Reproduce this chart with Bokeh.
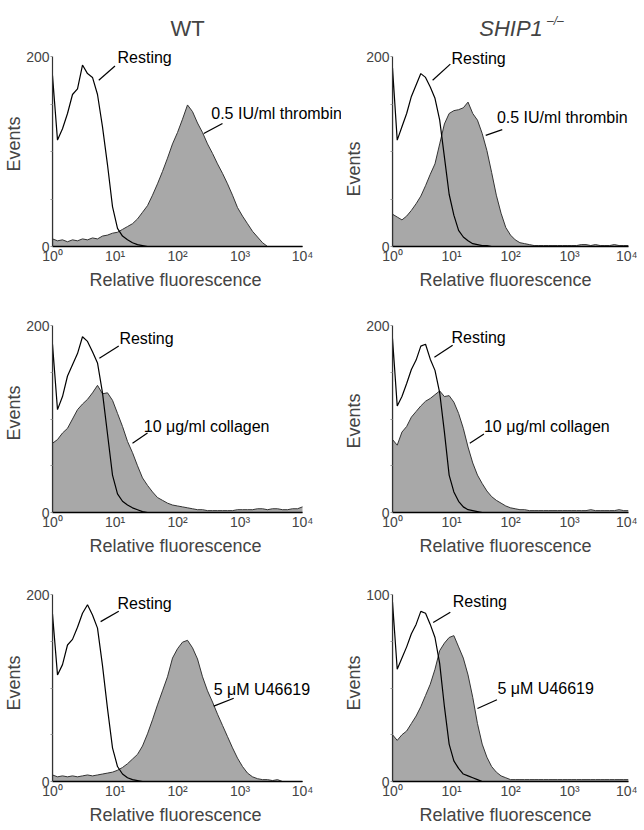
from bokeh.plotting import figure
from bokeh.layouts import column, row
from bokeh.models import FixedTicker, Label, Range1d, Title
from bokeh.embed import file_html
from bokeh.resources import INLINE

FONT = "Liberation Sans"

# ---------------- data ----------------
LOG_CHANNEL = [0.00, 0.08, 0.16, 0.24, 0.32, 0.40, 0.48, 0.56, 0.64, 0.72,
               0.80, 0.88, 0.96, 1.04, 1.12, 1.20, 1.28, 1.36, 1.44, 1.52,
               1.60, 1.68, 1.76, 1.84, 1.92, 2.00, 2.08, 2.16, 2.24, 2.32,
               2.40, 2.48, 2.56, 2.64, 2.72, 2.80, 2.88, 2.96, 3.04, 3.12,
               3.20, 3.28, 3.36, 3.44, 3.52, 3.60, 3.68, 3.76, 3.84, 3.92, 4.00]

WT_THROMBIN_REST = [180, 112, 124, 140, 160, 166, 191, 182, 178, 160, 126, 86, 42,
                    19, 11, 7, 4, 2, 1, 0, 0, 0, 0, 0, 0,
                    0, 0, 0, 0, 0, 0, 0, 0, 0, 0, 0, 0, 0,
                    0, 0, 0, 0, 0, 0, 0, 0, 0, 0, 0, 0, 0]
WT_THROMBIN_STIM = [8, 6, 7, 5, 7, 6, 8, 7, 9, 8, 11, 12, 14,
                    15, 18, 21, 24, 29, 36, 43, 54, 66, 79, 93, 108,
                    120, 134, 149, 142, 130, 120, 108, 98, 87, 77, 66, 54, 41,
                    32, 24, 16, 10, 4, 0, 0, 0, 0, 0, 0, 0, 0]

SHIP_THROMBIN_REST = [188, 112, 126, 140, 158, 170, 182, 178, 168, 156, 133, 94, 55,
                      33, 17, 10, 6, 3, 2, 1, 1, 0, 0, 0, 0,
                      0, 0, 0, 0, 0, 0, 0, 0, 0, 0, 0, 0, 0,
                      0, 0, 0, 0, 0, 0, 0, 0, 0, 0, 0, 0, 0]
SHIP_THROMBIN_STIM = [34, 31, 28, 32, 38, 45, 53, 64, 76, 87, 108, 129, 140,
                      143, 144, 146, 152, 140, 133, 119, 101, 78, 54, 35, 20,
                      12, 7, 4, 3, 2, 1, 1, 1, 1, 1, 1, 1, 1,
                      1, 1, 2, 2, 1, 2, 1, 1, 1, 2, 1, 1, 1]

WT_COLLAGEN_REST = [180, 110, 124, 146, 158, 170, 188, 183, 172, 160, 128, 84, 40,
                    20, 12, 8, 5, 3, 1, 0, 0, 0, 0, 0, 0,
                    0, 0, 0, 0, 0, 0, 0, 0, 0, 0, 0, 0, 0,
                    0, 0, 0, 0, 0, 0, 0, 0, 0, 0, 0, 0, 0]
WT_COLLAGEN_STIM = [74, 78, 85, 90, 100, 110, 116, 121, 128, 136, 127, 128, 120,
                    106, 92, 76, 64, 50, 37, 29, 22, 16, 13, 10, 8,
                    7, 6, 5, 4, 3, 3, 2, 2, 2, 2, 2, 2, 3,
                    3, 3, 3, 4, 4, 3, 4, 4, 3, 3, 4, 4, 6]

SHIP_COLLAGEN_REST = [186, 114, 124, 138, 153, 163, 178, 180, 164, 152, 128, 86, 40,
                      22, 12, 6, 3, 2, 1, 0, 0, 0, 0, 0, 0,
                      0, 0, 0, 0, 0, 0, 0, 0, 0, 0, 0, 0, 0,
                      0, 0, 0, 0, 0, 0, 0, 0, 0, 0, 0, 0, 0]
SHIP_COLLAGEN_STIM = [78, 72, 86, 92, 102, 108, 114, 119, 122, 126, 130, 124, 125,
                      118, 106, 90, 70, 53, 40, 31, 23, 17, 13, 10, 7,
                      5, 4, 3, 3, 2, 2, 2, 2, 2, 2, 2, 2, 2,
                      2, 2, 2, 2, 3, 2, 2, 2, 2, 2, 3, 2, 2]

WT_U46619_REST = [179, 114, 125, 146, 152, 165, 180, 189, 178, 164, 124, 78, 36,
                  16, 8, 4, 2, 1, 0, 0, 0, 0, 0, 0, 0,
                  0, 0, 0, 0, 0, 0, 0, 0, 0, 0, 0, 0, 0,
                  0, 0, 0, 0, 0, 0, 0, 0, 0, 0, 0, 0, 0]
WT_U46619_STIM = [7, 5, 6, 5, 6, 5, 6, 7, 6, 7, 8, 9, 10,
                  12, 15, 19, 24, 29, 38, 51, 66, 82, 97, 112, 132,
                  142, 149, 151, 143, 131, 112, 97, 85, 72, 60, 48, 36, 25,
                  16, 9, 5, 3, 2, 2, 1, 2, 0, 0, 0, 0, 0]

SHIP_U46619_REST = [96, 60, 66, 72, 79, 84, 91, 90, 84, 77, 63, 40, 20,
                    11, 7, 4, 3, 2, 1, 0, 0, 0, 0, 0, 0,
                    0, 0, 0, 0, 0, 0, 0, 0, 0, 0, 0, 0, 0,
                    0, 0, 0, 0, 0, 0, 0, 0, 0, 0, 0, 0, 0]
SHIP_U46619_STIM = [25, 22, 25, 27, 31, 35, 40, 46, 52, 60, 70, 74, 77,
                    78, 72, 66, 57, 45, 31, 20, 13, 8, 5, 3, 2,
                    1, 1, 1, 1, 1, 1, 1, 1, 1, 1, 1, 1, 1,
                    1, 1, 1, 1, 1, 1, 1, 1, 1, 1, 1, 1, 1]

X_TICKS = [1, 10, 100, 1000, 10000]
X_TICK_LABELS = ["10\u2070", "10\u00b9", "10\u00b2", "10\u00b3", "10\u2074"]
Y_TICKS_200 = [0, 50, 100, 150, 200]
Y_TICKS_100 = [0, 25, 50, 75, 100]

COLUMN_TITLES = ["WT", "SHIP1"]
SUPERSCRIPT = "\u2013/\u2013"
STIM_NAMES = ["0.5 IU/ml thrombin", "10 \u03bcg/ml collagen", "5 \u03bcM U46619"]
REST_NAME = "Resting"
X_LABEL = "Relative fluorescence"
Y_LABEL = "Events"

CHANNEL = [10 ** v for v in LOG_CHANNEL]

GRAY = "#a8a8a8"

# ---------------- layout (pixels) ----------------
ROW_TOP = [0, 24, 27]           # top border of each row
ROW_FRAME_H = [246, 196, 196]   # frame height of each row
ROW_AXIS_H = [190, 187, 187]    # pixel height of the 0..max axis
BOTTOM = 46
LEFT_COL_FRAME_W = 289          # 250 px for 4 decades + room for the overflowing label
RIGHT_COL_FRAME_W = 236
EVENTS_OFFSET = {(0, 0): 75, (0, 1): 50, (1, 0): 72, (1, 1): 64, (2, 0): 71, (2, 1): 71}
XLABEL_OFFSET = [37, 27]


def make_panel(rest, stim, ymax, yticks, col, rowi, rest_ann, stim_ann, stim_label):
    left_col = col == 0
    frame_w = LEFT_COL_FRAME_W if left_col else RIGHT_COL_FRAME_W
    x_end = 10 ** (4 * LEFT_COL_FRAME_W / 250.0) if left_col else 10000
    y_end = ymax * ROW_FRAME_H[rowi] / float(ROW_AXIS_H[rowi])
    p = figure(x_axis_type="log", x_range=Range1d(1, x_end),
               y_range=Range1d(0, y_end),
               frame_width=frame_w, frame_height=ROW_FRAME_H[rowi],
               min_border_left=52 if left_col else 45,
               min_border_right=0 if left_col else 9,
               min_border_top=ROW_TOP[rowi], min_border_bottom=BOTTOM,
               output_backend="svg", toolbar_location=None)
    p.outline_line_color = None
    p.grid.visible = False
    p.background_fill_color = "white"
    p.border_fill_color = "white"

    # histograms
    p.varea(x=CHANNEL, y1=0, y2=stim, fill_color=GRAY)
    p.line(x=[CHANNEL[0]] + CHANNEL, y=[0] + stim, line_color="#333333", line_width=1)
    p.line(x=[CHANNEL[0]] + CHANNEL, y=[0] + rest, line_color="black", line_width=1.2)

    # axes
    xa = p.xaxis[0]
    xa.bounds = (1, 10000)
    xa.ticker = FixedTicker(ticks=X_TICKS, minor_ticks=[])
    xa.major_label_overrides = {t: s for t, s in zip(X_TICKS, X_TICK_LABELS)}
    xa.major_label_text_font = FONT
    xa.major_label_text_font_size = "14px"
    xa.major_label_standoff = 1
    xa.major_tick_out = 0
    xa.major_tick_in = 0
    xa.minor_tick_line_color = None
    xa.axis_line_width = 1.5
    xa.axis_line_color = "black"

    ya = p.yaxis[0]
    ya.bounds = (0, ymax)
    ya.ticker = FixedTicker(ticks=yticks, minor_ticks=[])
    ya.major_label_overrides = {v: (str(v) if v in (0, ymax) else "") for v in yticks}
    ya.major_label_text_font = FONT
    ya.major_label_text_font_size = "14px"
    ya.major_label_standoff = 1
    ya.major_tick_out = 2
    ya.major_tick_in = 0
    ya.major_tick_line_color = "#9a9a9a"
    ya.minor_tick_line_color = None
    ya.axis_line_width = 1.2
    ya.axis_line_color = "#333333"

    # axis titles as side titles (positioned along the axis)
    p.add_layout(Title(text=X_LABEL, align="left", offset=XLABEL_OFFSET[col],
                       text_font=FONT, text_font_size="18px", text_font_style="normal",
                       standoff=2), "below")
    p.add_layout(Title(text=Y_LABEL, align="left", offset=EVENTS_OFFSET[(rowi, col)],
                       text_font=FONT, text_font_size="18px", text_font_style="normal",
                       standoff=0), "left")

    # annotations (leader lines + labels)
    for ann, txt in ((rest_ann, REST_NAME), (stim_ann, stim_label)):
        (lx0, y0, lx1, y1, tlx, ty) = ann
        p.segment(x0=[10 ** lx0], y0=[y0], x1=[10 ** lx1], y1=[y1],
                  line_color="black", line_width=1.2)
        p.add_layout(Label(x=10 ** tlx, y=ty, text=txt, text_font=FONT,
                           text_font_size="16px", text_baseline="middle",
                           text_align="left", text_color="black"))
    return p


# annotation geometry: (leader log-x0, y0, log-x1, y1, text log-x, text y)
ANN = {
    (0, 0): ((0.74, 175, 1.00, 190, 1.04, 199), (2.42, 119, 2.72, 129.5, 2.54, 140)),
    (0, 1): ((0.68, 175, 0.98, 192, 1.00, 198), (1.58, 117, 1.86, 123, 1.77, 136)),
    (1, 0): ((0.75, 165, 1.06, 178, 1.07, 186), (1.28, 74, 1.52, 85, 1.46, 92)),
    (1, 1): ((0.71, 166, 1.02, 179, 1.00, 187), (1.31, 74, 1.55, 84, 1.55, 92)),
    (2, 0): ((0.77, 171, 1.06, 182, 1.04, 190), (2.58, 80.6, 2.90, 89, 2.58, 98)),
    (2, 1): ((0.69, 85, 0.98, 90.5, 1.02, 96), (1.44, 39, 1.77, 43.7, 1.78, 50)),
}

DATA = {
    (0, 0): (WT_THROMBIN_REST, WT_THROMBIN_STIM, 200, Y_TICKS_200),
    (0, 1): (SHIP_THROMBIN_REST, SHIP_THROMBIN_STIM, 200, Y_TICKS_200),
    (1, 0): (WT_COLLAGEN_REST, WT_COLLAGEN_STIM, 200, Y_TICKS_200),
    (1, 1): (SHIP_COLLAGEN_REST, SHIP_COLLAGEN_STIM, 200, Y_TICKS_200),
    (2, 0): (WT_U46619_REST, WT_U46619_STIM, 200, Y_TICKS_200),
    (2, 1): (SHIP_U46619_REST, SHIP_U46619_STIM, 100, Y_TICKS_100),
}

rows = []
for r in range(3):
    figs = []
    for c in range(2):
        rest, stim, ymax, yt = DATA[(r, c)]
        ra, sa = ANN[(r, c)]
        figs.append(make_panel(rest, stim, ymax, yt, c, r, ra, sa, STIM_NAMES[r]))
    rows.append(figs)

# column titles (inside the extended top frame)
p_wt, p_ship = rows[0]
p_wt.add_layout(Label(x=10 ** 2.16, y=229.5, text=COLUMN_TITLES[0], text_font=FONT,
                      text_font_size="22px", text_align="center",
                      text_baseline="alphabetic"))
p_ship.add_layout(Label(x=10 ** 1.47, y=229.5, text=COLUMN_TITLES[1], text_font=FONT,
                        text_font_size="22px", text_font_style="italic",
                        text_align="left", text_baseline="alphabetic"))
p_ship.add_layout(Label(x=10 ** 2.62, y=237, text=SUPERSCRIPT, text_font=FONT,
                        text_font_size="12px", text_font_style="italic",
                        text_align="left", text_baseline="alphabetic"))

layout = column(*[row(*fs) for fs in rows])
open("out.html", "w").write(file_html(layout, INLINE))
